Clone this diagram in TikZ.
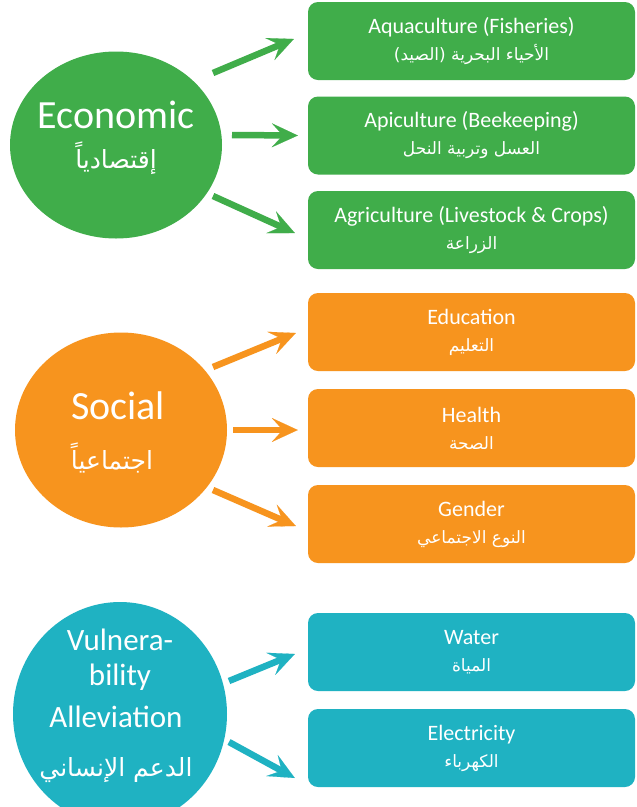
\documentclass[tikz,border=0pt]{standalone}
\usepackage{fontspec}
\setmainfont{Carlito}
\newfontfamily\arabicfont[Script=Arabic]{DejaVu Sans}
\TeXXeTstate=1
\usetikzlibrary{shapes.geometric,arrows.meta}
\definecolor{cgreen}{RGB}{64,173,74}
\definecolor{corange}{RGB}{247,148,30}
\definecolor{cteal}{RGB}{31,178,194}
\newcommand{\arsz}[1]{\fontsize{#1}{27}\selectfont\arabicfont}
\tikzset{
  circ/.style={ellipse, fill=#1, draw=none, inner sep=0pt},
  ctext/.style={text=white, inner sep=0pt, font=\fontsize{40}{44}\selectfont},
  vtext/.style={text=white, inner sep=0pt, font=\fontsize{31}{36}\selectfont},
  catext/.style={text=white, inner sep=0pt},
  boxst/.style={fill=#1, rounded corners=10pt, minimum width=327pt, minimum height=78pt,
    inner sep=0pt, text=white, align=center, font=\fontsize{22}{27}\selectfont},
  arr/.style={draw=#1, line width=6.5pt,
    -{Stealth[length=26pt,width=24pt,inset=11pt,line width=0.1pt]}}
}
\begin{document}
\begin{tikzpicture}[x=1pt,y=-1pt]
\useasboundingbox (0,0) rectangle (637,807);
\clip (0,0) rectangle (637,807);
\fill[white] (0,0) rectangle (637,807);

% circles
\node[circ=cgreen, minimum width=212pt, minimum height=187pt] (eco) at (116,145) {};
\node[circ=corange, minimum width=212pt, minimum height=195pt] (soc) at (121,430) {};
\node[circ=cteal, minimum width=214pt, minimum height=224pt] (vul) at (120,714) {};

\node[ctext] (ecoT) at (116,115) {Economic};
\node[catext] (ecoA) at (116,158) {{\arsz{25}\beginR إقتصادياً\endR}};
\node[ctext] (socT) at (118,406) {Social};
\node[catext] (socA) at (112,458) {{\arsz{25}\beginR اجتماعياً\endR}};
\node[vtext] (vulT1) at (120,640) {Vulnera-};
\node[vtext] (vulT2) at (120,677) {bility};
\node[vtext] (vulT3) at (116,717) {Alleviation};
\node[catext] (vulA) at (116,770) {{\arsz{25}\beginR الدعم الإنساني\endR}};

% boxes
\node[boxst=cgreen] (g1) at (471.5,41) {Aquaculture (Fisheries)\\{\arsz{17}\beginR الأحياء البحرية (الصيد)\endR}};
\node[boxst=cgreen] (g2) at (471.5,135.5) {Apiculture (Beekeeping)\\{\arsz{17}\beginR العسل وتربية النحل\endR}};
\node[boxst=cgreen] (g3) at (471.5,230) {Agriculture (Livestock \& Crops)\\{\arsz{17}\beginR الزراعة\endR}};
\node[boxst=corange] (o1) at (471.5,332) {Education\\{\arsz{17}\beginR التعليم\endR}};
\node[boxst=corange] (o2) at (471.5,428) {Health\\{\arsz{17}\beginR الصحة\endR}};
\node[boxst=corange] (o3) at (471.5,524) {Gender\\{\arsz{17}\beginR النوع الاجتماعي\endR}};
\node[boxst=cteal] (t1) at (471.5,652) {Water\\{\arsz{17}\beginR المياة\endR}};
\node[boxst=cteal] (t2) at (471.5,748) {Electricity\\{\arsz{17}\beginR الكهرباء\endR}};

% arrows
\draw[arr=cgreen] ([shift={(97,-72)}]eco.center) -- ([shift={(-14,-2)}]g1.west);
\draw[arr=cgreen] ([shift={(116,-10)}]eco.center) -- ([shift={(-10,0)}]g2.west);
\draw[arr=cgreen] ([shift={(97,51)}]eco.center) -- ([shift={(-13,3)}]g3.west);
\draw[arr=corange] ([shift={(92,-63)}]soc.center) -- ([shift={(-12,1)}]o1.west);
\draw[arr=corange] ([shift={(112,0)}]soc.center) -- ([shift={(-10,2)}]o2.west);
\draw[arr=corange] ([shift={(92,60)}]soc.center) -- ([shift={(-12,2)}]o3.west);
\draw[arr=cteal] ([shift={(109,-33)}]vul.center) -- ([shift={(-13,2)}]t1.west);
\draw[arr=cteal] ([shift={(109,28)}]vul.center) -- ([shift={(-13,30)}]t2.west);
\end{tikzpicture}
\end{document}
